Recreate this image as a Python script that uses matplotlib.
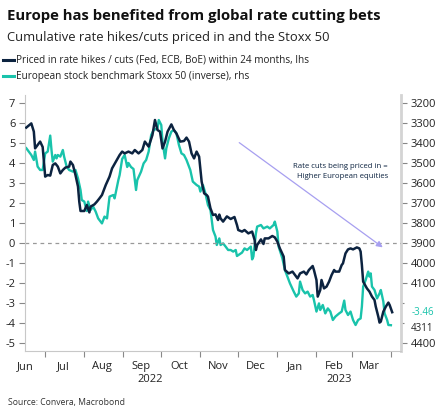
import numpy as np
import matplotlib
matplotlib.use("Agg")
import matplotlib.pyplot as plt
import matplotlib.dates as mdates
import datetime as dt

plt.rcParams['font.family'] = ['Open Sans', 'DejaVu Sans']

START = dt.date(2022, 6, 15)

# Priced in rate hikes / cuts (lhs) : day offset from START, value
rate_days = [1, 5, 7, 8, 10, 12, 14, 15, 16, 18, 20, 22, 24, 26, 28, 30, 32, 35, 36, 38,
             40, 42, 43, 44, 47, 49, 51, 52, 55, 57, 59, 61, 64, 67, 69, 72, 75, 77, 79, 82,
             85, 87, 90, 93, 95, 98, 101, 103, 105, 107, 109, 111, 113, 116, 118, 120, 123, 126, 128, 130,
             132, 134, 136, 138, 140, 142, 144, 145, 147, 149, 151, 153, 154, 155, 157, 160, 163, 166, 168, 169,
             172, 174, 177, 180, 182, 183, 184, 187, 189, 190, 193, 196, 198, 200, 202, 205, 206, 209, 212, 214,
             216, 218, 221, 223, 225, 228, 229, 231, 232, 234, 235, 237, 239, 241, 243, 245, 246, 249, 251, 252,
             254, 256, 258, 260, 263, 265, 266, 267, 268, 271, 273, 275, 277, 278, 280, 281, 282, 284, 286, 288,
             289, 291]
rate_vals = [5.77, 5.98, 5.57, 4.73, 4.90, 5.07, 4.80, 4.07, 3.32, 3.40, 3.37, 3.90, 3.98, 3.82, 3.48, 3.65, 3.77, 3.82, 4.07, 3.90,
             3.40, 2.82, 2.07, 1.60, 1.60, 1.90, 1.53, 1.82, 1.93, 2.07, 2.23, 2.40, 2.90, 3.32, 3.73, 4.07, 4.40, 4.57, 4.48, 4.57,
             4.48, 4.65, 4.48, 4.65, 5.07, 4.82, 5.40, 6.15, 5.65, 5.57, 4.73, 5.07, 5.57, 5.93, 5.65, 5.48, 5.07, 5.10, 5.27, 5.07,
             4.48, 4.23, 4.57, 4.32, 3.07, 2.48, 2.40, 2.32, 1.73, 1.40, 1.43, 1.15, 1.42, 1.23, 1.07, 1.33, 1.20, 1.30, 0.90, 0.65,
             0.57, 0.65, 0.48, 0.57, 0.15, -0.35, -0.10, 0.18, -0.05, 0.23, 0.23, 0.35, 0.28, 0.07, -0.27, -0.68, -1.35, -1.52, -1.43, -1.60,
             -1.77, -1.52, -1.43, -1.57, -1.35, -1.15, -1.35, -1.85, -2.68, -2.35, -1.85, -2.27, -2.18, -1.93, -1.60, -1.35, -1.43, -1.43, -1.10, -1.02,
             -0.52, -0.32, -0.27, -0.32, -0.22, -0.27, -0.43, -1.10, -1.93, -2.27, -2.43, -2.68, -2.85, -3.18, -3.68, -3.98, -3.93, -3.43, -3.18, -2.98,
             -3.10, -3.46]

# Stoxx 50 (rhs, inverted)
stoxx_days = [1, 5, 7, 8, 10, 12, 14, 16, 18, 20, 21, 22, 24, 25, 26, 28, 30, 31, 33, 35,
              38, 40, 42, 44, 45, 47, 49, 50, 52, 54, 56, 58, 61, 63, 65, 67, 70, 71, 74, 75,
              77, 79, 81, 82, 84, 86, 88, 89, 92, 94, 96, 98, 100, 102, 105, 106, 108, 109, 111, 112,
              114, 116, 118, 120, 122, 124, 126, 128, 131, 133, 136, 138, 139, 141, 143, 145, 147, 149, 151, 152,
              154, 155, 157, 159, 161, 163, 165, 167, 168, 171, 172, 174, 176, 179, 180, 181, 183, 184, 187, 189,
              192, 194, 197, 198, 200, 201, 204, 206, 208, 210, 213, 215, 217, 218, 220, 222, 224, 226, 228, 229,
              231, 233, 234, 236, 238, 240, 242, 244, 246, 249, 251, 253, 254, 256, 258, 260, 262, 264, 266, 267,
              268, 270, 272, 273, 274, 275, 277, 279, 281, 282, 284, 285, 287, 288, 290]
stoxx_vals = [3426, 3460, 3485, 3443, 3518, 3535, 3535, 3452, 3443, 3363, 3435, 3493, 3460, 3477, 3460, 3468, 3435, 3468, 3518, 3535,
              3543, 3535, 3577, 3635, 3685, 3693, 3740, 3693, 3735, 3718, 3743, 3777, 3802, 3768, 3777, 3668, 3660, 3677, 3585, 3560,
              3480, 3460, 3520, 3500, 3520, 3530, 3635, 3585, 3543, 3502, 3485, 3443, 3360, 3335, 3327, 3285, 3310, 3393, 3477, 3427,
              3377, 3343, 3335, 3352, 3410, 3452, 3460, 3485, 3535, 3593, 3610, 3618, 3643, 3610, 3652, 3710, 3735, 3835, 3868, 3910,
              3877, 3910, 3902, 3918, 3935, 3935, 3943, 3935, 3965, 3952, 3948, 3927, 3935, 3918, 3982, 3968, 3852, 3818, 3810, 3827,
              3818, 3827, 3810, 3793, 3843, 3918, 3977, 4035, 4068, 4102, 4143, 4168, 4152, 4093, 4135, 4152, 4143, 4168, 4160, 4185,
              4243, 4202, 4235, 4210, 4252, 4227, 4243, 4285, 4268, 4252, 4243, 4188, 4235, 4260, 4243, 4285, 4310, 4285, 4277, 4218,
              4118, 4085, 4043, 4068, 4052, 4118, 4135, 4177, 4152, 4135, 4193, 4252, 4285, 4310, 4311]

rate_label = "Priced in rate hikes / cuts (Fed, ECB, BoE) within 24 months, lhs"
stoxx_label = "European stock benchmark Stoxx 50 (inverse), rhs"
left_ticks = [7, 6, 5, 4, 3, 2, 1, 0, -1, -2, -3, -4, -5]
right_ticks = [3200, 3300, 3400, 3500, 3600, 3700, 3800, 3900, 4000, 4100, 4200, 4300, 4400]
right_hidden = [4200, 4300]

NAVY = '#0c2340'
TEAL = '#19c3ab'
GREY = '#c8c8c8'

def to_dates(days):
    return [START + dt.timedelta(days=int(d)) for d in days]

rate_dates = to_dates(rate_days)
stoxx_dates = to_dates(stoxx_days)

fig = plt.figure(figsize=(4.45, 4.16), dpi=100)
ax = fig.add_axes([25/445, 1-351/416, 376/445, 256/416])
ax2 = ax.twinx()

ax.set_xlim(dt.date(2022, 6, 15), dt.date(2023, 4, 9))
ax.set_ylim(-5.4, 7.4)
ax2.set_ylim(4440, 3160)

ax.axhline(0, color='#999999', lw=0.9, ls=(0, (3, 3)), zorder=1)

ax2.plot(stoxx_dates, stoxx_vals, color=TEAL, lw=1.7, zorder=2)
ax.plot(rate_dates, rate_vals, color=NAVY, lw=1.8, zorder=3)
ax.set_zorder(ax2.get_zorder() + 1)
ax.patch.set_visible(False)

# spines
for a in (ax, ax2):
    a.spines['top'].set_visible(False)
ax.spines['left'].set_color(GREY)
ax.spines['bottom'].set_color(GREY)
ax.spines['right'].set_visible(False)
ax2.spines['left'].set_visible(False)
ax2.spines['bottom'].set_visible(False)
ax2.spines['right'].set_color('#d4d4d4')
ax2.spines['right'].set_linewidth(2)

# y ticks
ax.set_yticks(left_ticks)
ax.set_yticklabels([f"{t}" for t in left_ticks])
ax.tick_params(axis='y', length=4, width=0.8, color='#888888', pad=3, labelsize=8, labelcolor='#222222')
ax2.set_yticks(right_ticks)
ax2.set_yticklabels(["" if t in right_hidden else f"{t}" for t in right_ticks])
ax2.tick_params(axis='y', length=4, width=0.8, color='#888888', pad=3, labelsize=8, labelcolor='#222222')
for t, tk in zip(right_ticks, ax2.yaxis.get_major_ticks()):
    if t in right_hidden:
        tk.tick2line.set_color('#8b1a1a')
        tk.tick2line.set_markersize(2)

# x ticks
ax.xaxis.set_major_locator(mdates.MonthLocator(bymonthday=1))
ax.xaxis.set_major_formatter(plt.NullFormatter())
ax.xaxis.set_minor_locator(mdates.MonthLocator(bymonthday=15))
ax.xaxis.set_minor_formatter(mdates.DateFormatter('%b'))
ax.tick_params(axis='x', which='major', length=4, width=0.8, color='#888888')
ax.tick_params(axis='x', which='minor', length=0, pad=7, labelsize=8, labelcolor='#222222')

# year labels
trans = matplotlib.transforms.blended_transform_factory(ax.transData, fig.transFigure)
ax.text(mdates.date2num(dt.date(2022, 9, 22)), 1-380/416, "2022", transform=trans,
        ha='center', va='center', fontsize=8, color='#222222')
ax.text(mdates.date2num(dt.date(2023, 2, 19)), 1-380/416, "2023", transform=trans,
        ha='center', va='center', fontsize=8, color='#222222')

# last value labels
ax.text(1.028, (rate_vals[-1] + 5.4) / 12.8, f"{rate_vals[-1]:.2f}", transform=ax.transAxes,
        ha='left', va='center', fontsize=7, color=TEAL)
ax.text(1.027, (4440 - stoxx_vals[-1]) / 1280 - 0.012, f"{stoxx_vals[-1]}", transform=ax.transAxes,
        ha='left', va='center', fontsize=7, color='#222222')

# annotation arrow and text
ax.annotate("", xy=(385/445, 1-249/416), xytext=(237/445, 1-141/416),
            xycoords='figure fraction', textcoords='figure fraction',
            arrowprops=dict(arrowstyle='-|>', color='#a79ff0', lw=0.9, mutation_scale=9))
fig.text(388/445, 1-172/416, "Rate cuts being priced in =\nHigher European equities",
         ha='right', va='center', fontsize=5.6, color=NAVY, linespacing=1.6, multialignment='right')

# title, subtitle
fig.text(7/445, 1-16/416, "Europe has benefited from global rate cutting bets",
         ha='left', va='center', fontsize=10.7, fontweight='bold', color='#111111')
fig.text(7/445, 1-37/416, "Cumulative rate hikes/cuts priced in and the Stoxx 50",
         ha='left', va='center', fontsize=9.4, color='#222222')

# legend
from matplotlib.lines import Line2D
handles = [Line2D([], [], color=NAVY, lw=2.2), Line2D([], [], color=TEAL, lw=2.2)]
fig.legend(handles, [rate_label, stoxx_label], loc='upper left',
           bbox_to_anchor=(0.0, 1-52/416), frameon=False, fontsize=7.2,
           handlelength=1.1, handletextpad=0.25, labelspacing=0.55, borderaxespad=0,
           borderpad=0.3, labelcolor='#222222')

fig.text(8/445, 1-402/416, "Source: Convera, Macrobond", ha='left', va='center',
         fontsize=6.2, color='#333333')

fig.savefig("out.png", dpi=100)
